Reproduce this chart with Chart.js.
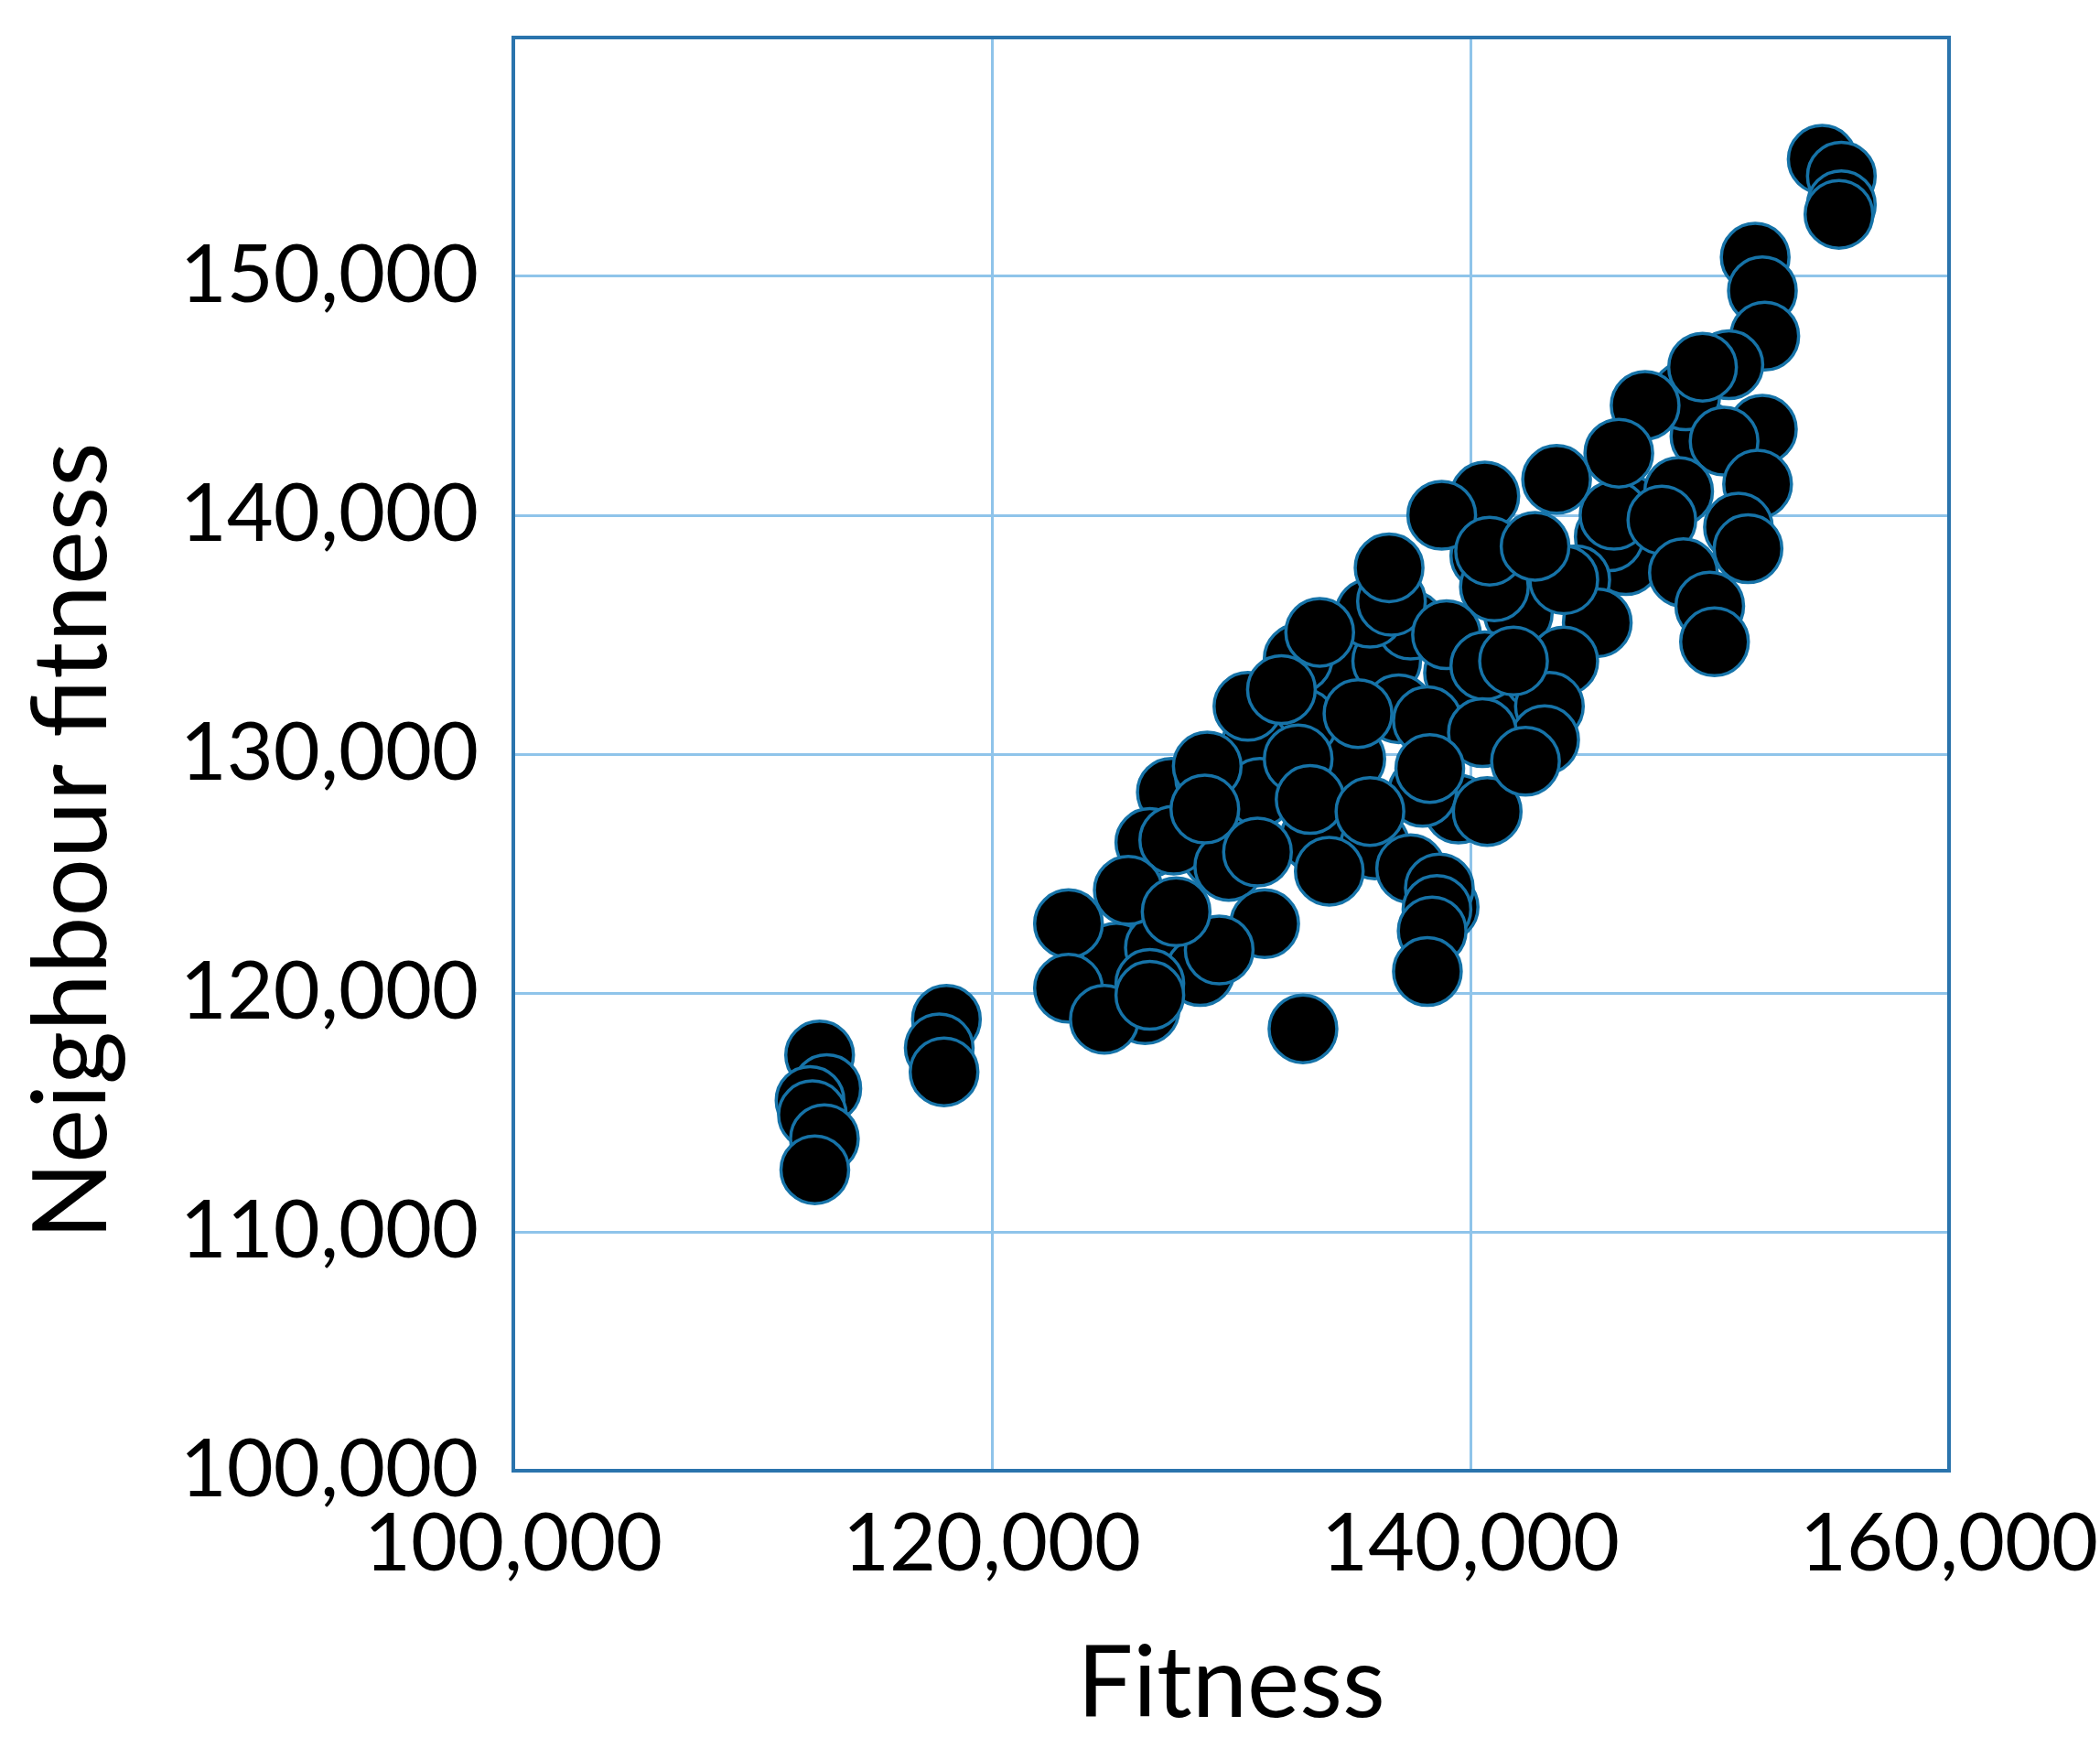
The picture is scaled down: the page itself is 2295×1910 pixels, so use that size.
<!DOCTYPE html>
<html><head><meta charset="utf-8">
<script src="https://cdn.jsdelivr.net/npm/chart.js@4.4.1/dist/chart.umd.min.js"></script>
<style>html,body{margin:0;padding:0;background:#fff;overflow:hidden}#wrap{width:2295px;height:1910px;position:relative}</style>
</head><body><div id="wrap"><canvas id="c" width="2295" height="1910"></canvas></div>
<script>
// Data (points partly hidden behind others come first)
const fitness = [
 134500,136500,137000,135000,133000,131000,130500,133500,136000,139500,
 141500,139500,137500,142000,
 135800,138000,127500,126600,130700,136700,126400,125200,127000,128700,
 129400,127600,129100,149800,149000,146500,146500,142800,145800,146000,
 140600,138900,132800,131200,
 154700,155500,155500,155400,151900,152200,152300,150800,149700,147300,
 152200,150600,152000,146200,143600,148700,148000,151200,
 151600,144400,145300,148900,150000,150200,143900,143300,
 143100,140600,138800,136600,141000,143900,
 133700,132100,135300,138200,139000,140600,140500,140700,138300,
 129000,132800,133300,135800,129900,134100,137500,138700,138600,
 138400,138200,131400,129500,125700,127700,126600,
 142300,140800,142700,141800,123200,123200,124700,126600,
 131100,128900,133000,
 112800,113100,112400,112500,113000,112600,118100,117800,118000
];
const neighbourFitness = [
 133400,133900,131900,129800,131300,130300,127700,126500,126200,127700,
 131300,133400,135400,135900,
 135900,128400,128400,126300,132000,136400,119300,121500,121900,120900,
 125800,126400,129000,143300,145000,140300,138100,133300,139100,140000,
 138300,123600,134000,128400,
 154900,154200,153000,152600,150800,149400,147500,146300,146200,144600,
 143600,143100,141300,142600,141500,141000,139800,139500,
 138600,137300,135500,137600,136200,134700,133900,132000,
 130600,140800,140000,137800,137000,137300,
 135100,132700,131700,131400,135000,133700,130900,127600,129400,
 129500,129800,128100,127600,125300,125100,125200,124400,123500,
 122600,120900,122900,121800,124300,123400,120400,
 129700,138500,138700,133900,122900,120200,118900,119900,
 125900,127700,118500,
 117400,116000,115500,114900,113900,112600,118900,117700,116700
];
const xTickValues = [100000, 120000, 140000, 160000];
const yTickValues = [100000, 110000, 120000, 130000, 140000, 150000];
const xTitle = 'Fitness';
const yTitle = 'Neighbour fitness';

const FONT = 'Lato';
const points = fitness.map((x, i) => ({x: x, y: neighbourFitness[i]}));

const frame = {
  id: 'frame',
  beforeDatasetsDraw(chart) {
    const a = chart.chartArea, ctx = chart.ctx;
    ctx.save();
    ctx.strokeStyle = '#2a74ad';
    ctx.lineWidth = 4;
    ctx.strokeRect(a.left, a.top, a.right - a.left, a.bottom - a.top);
    ctx.restore();
  },
  afterDraw(chart) {
    const a = chart.chartArea, ctx = chart.ctx;
    ctx.save();
    ctx.fillStyle = '#000';
    ctx.font = '108px ' + FONT;
    ctx.textAlign = 'center';
    ctx.textBaseline = 'alphabetic';
    ctx.fillText(xTitle, (a.left + a.right) / 2, 1876);
    ctx.translate(116, 919);
    ctx.rotate(-Math.PI / 2);
    ctx.font = '112px ' + FONT;
    ctx.fillText(yTitle, 0, 0);
    ctx.restore();
  }
};

function fmt(v) { return Number(v).toLocaleString('en-US'); }

function draw() {
  new Chart(document.getElementById('c'), {
    type: 'scatter',
    data: { datasets: [{
      data: points,
      pointRadius: 37,
      pointHoverRadius: 37,
      pointBorderWidth: 3.5,
      pointBackgroundColor: '#000000',
      pointBorderColor: '#1673a8'
    }]},
    options: {
      responsive: false,
      animation: false,
      devicePixelRatio: 1,
      events: [],
      layout: { padding: { left: 0, top: 41, right: 165, bottom: 0 } },
      plugins: { legend: { display: false }, tooltip: { enabled: false } },
      scales: {
        x: {
          type: 'linear', min: 100000, max: 160000,
          afterBuildTicks: s => { s.ticks = xTickValues.map(v => ({value: v})); },
          afterFit: s => { s.height = 303; s.paddingLeft = 0; s.paddingRight = 0; },
          grid: { color: '#8fc4ea', lineWidth: 3, drawTicks: false },
          border: { display: false },
          ticks: { padding: 28, color: '#000', font: { family: FONT, size: 88 }, callback: v => fmt(v), maxRotation: 0, autoSkip: false }
        },
        y: {
          type: 'linear', min: 100000, max: 160000,
          afterBuildTicks: s => { s.ticks = yTickValues.map(v => ({value: v})); },
          afterFit: s => { s.width = 561; s.paddingTop = 0; s.paddingBottom = 0; },
          grid: { color: '#8fc4ea', lineWidth: 3, drawTicks: false },
          border: { display: false },
          ticks: { padding: 38, color: '#000', font: { family: FONT, size: 88 }, callback: v => fmt(v), autoSkip: false }
        }
      }
    },
    plugins: [frame]
  });
}
if (document.fonts && document.fonts.load) {
  Promise.all([document.fonts.load('88px ' + FONT), document.fonts.load('108px ' + FONT)]).then(draw, draw);
} else { draw(); }
</script></body></html>
